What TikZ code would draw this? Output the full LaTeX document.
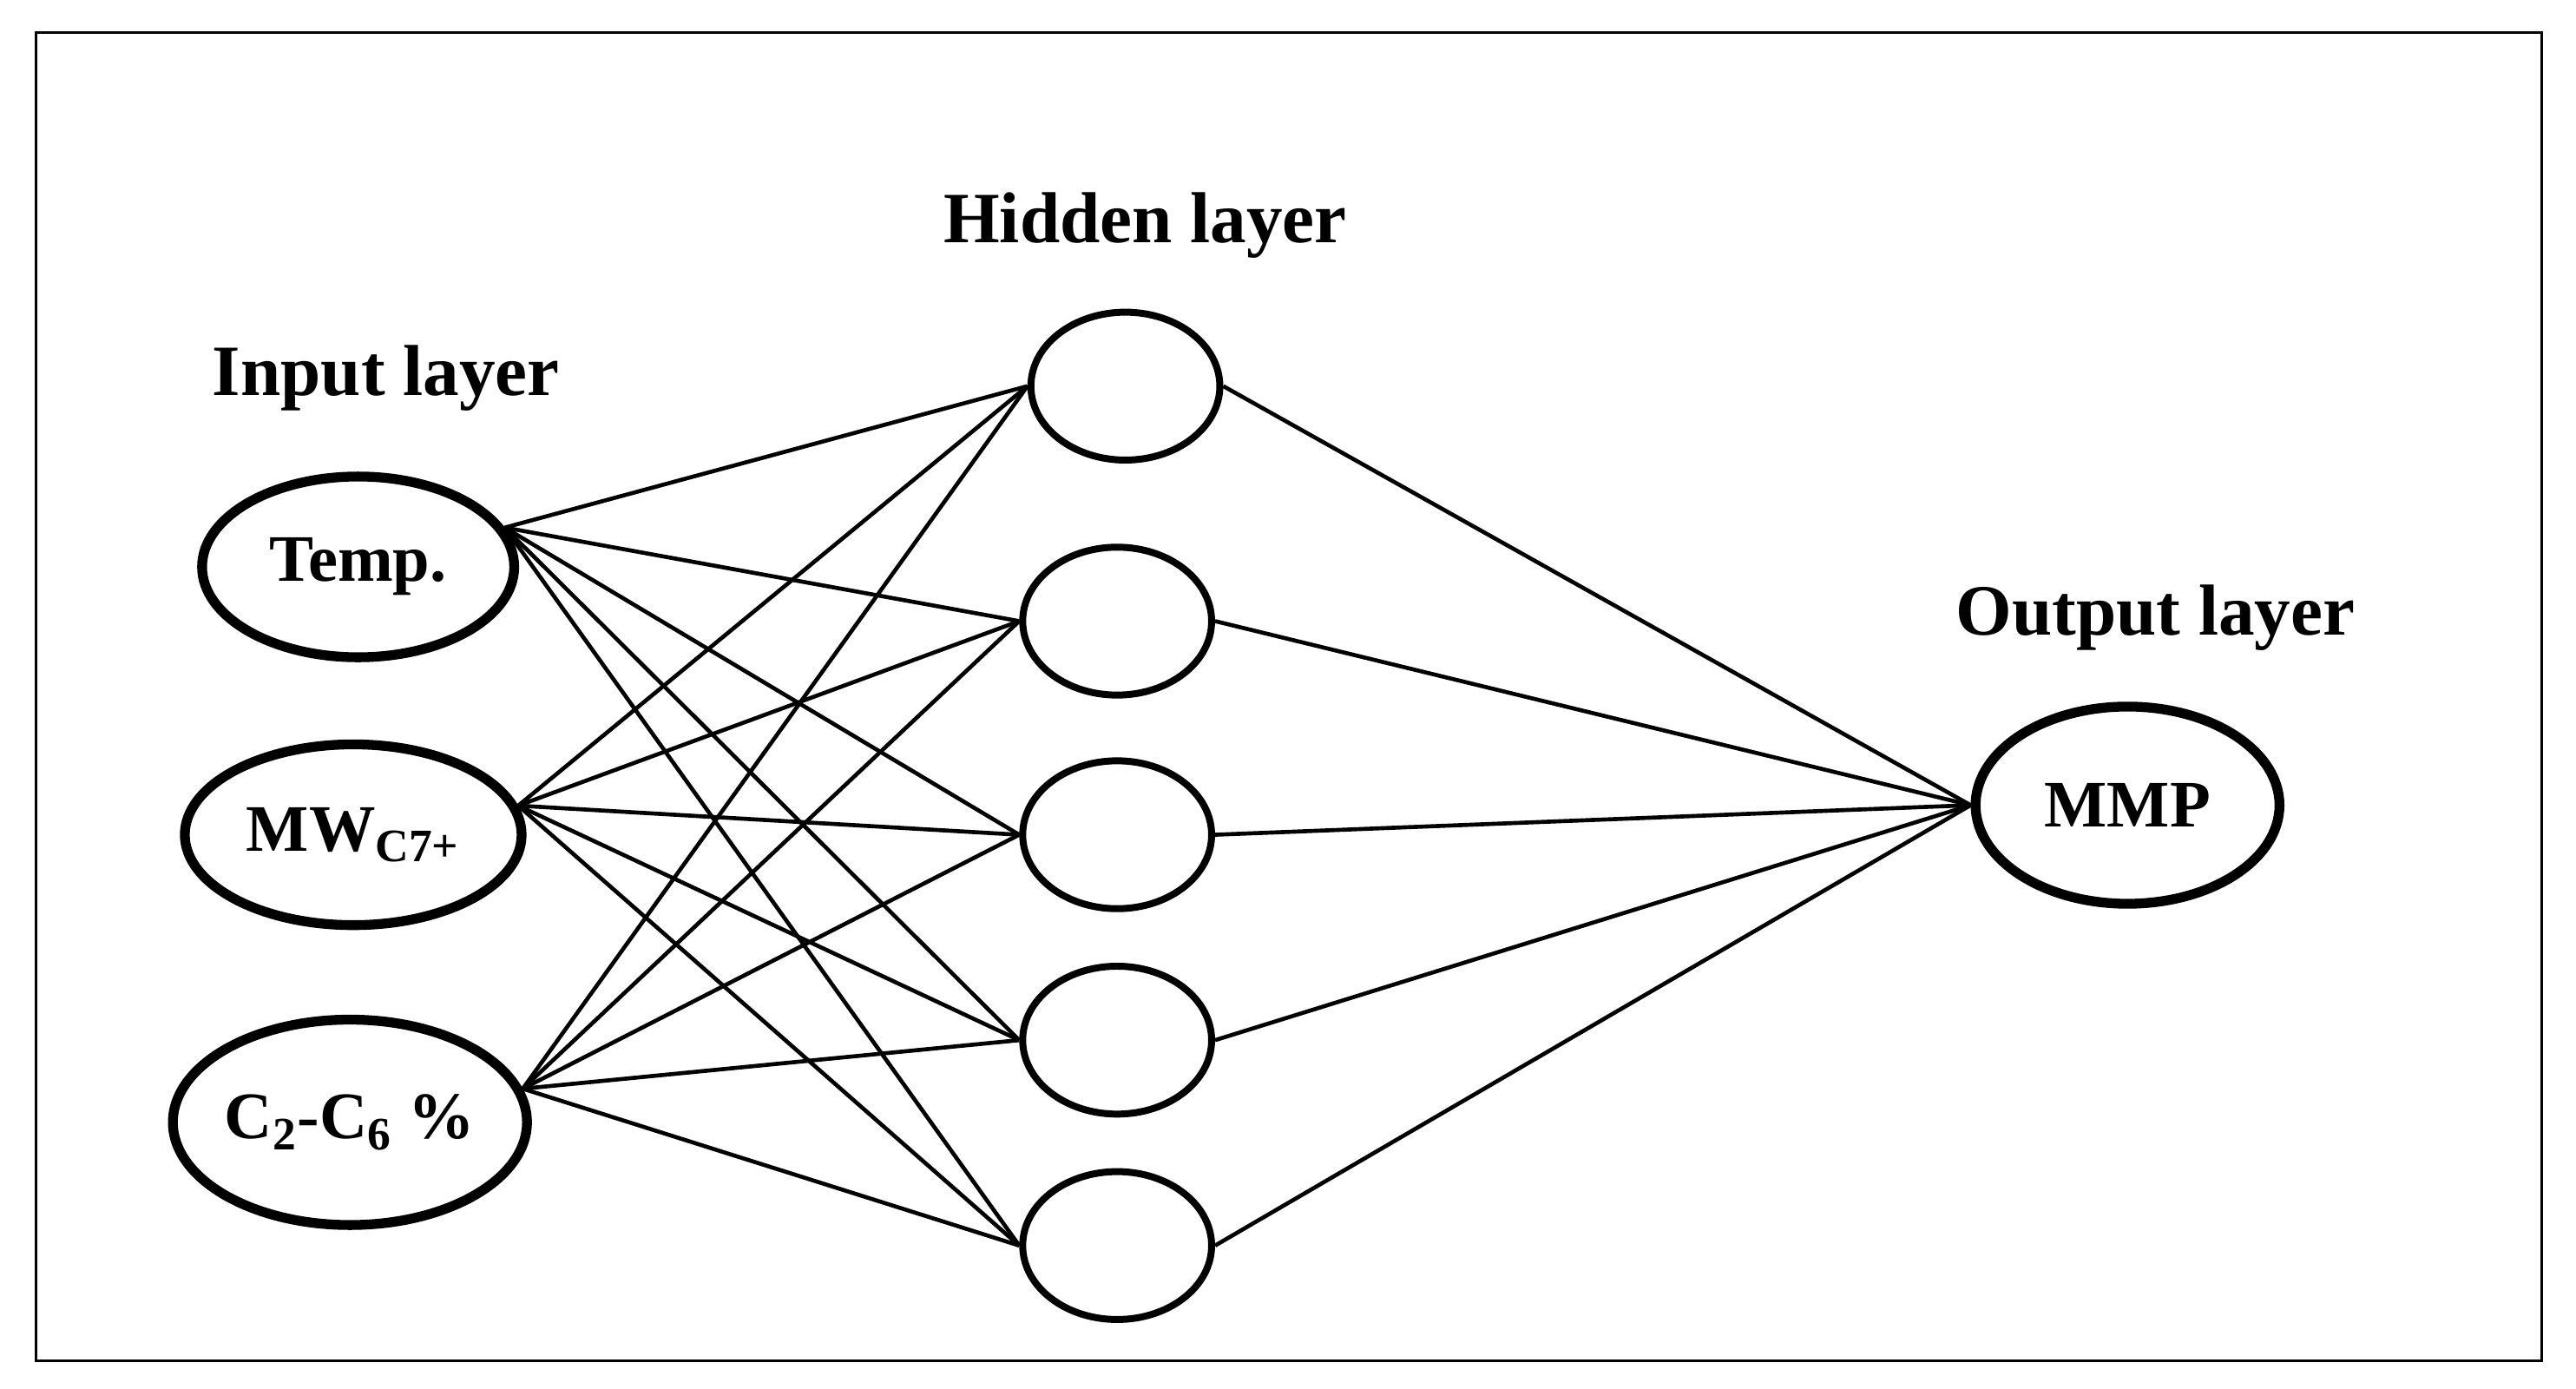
\documentclass[tikz,border=0pt]{standalone}
\usepackage{fontspec}
\setmainfont{Liberation Serif}
\usetikzlibrary{shapes.geometric}
\tikzset{
  inp/.style={ellipse, draw, line width=3.4pt, minimum width=3.8cm, minimum height=2.2cm, font=\fontsize{23}{27}\selectfont\bfseries},
  hid/.style={ellipse, draw, line width=2.4pt, minimum width=2.3cm, minimum height=1.8cm},
  lbl/.style={font=\fontsize{25}{29}\selectfont\bfseries},
  conn/.style={line width=1.4pt}
}
\begin{document}
\begin{tikzpicture}
  \useasboundingbox (0,0) rectangle (31.36,16.9);
  \draw[line width=1pt] (0.44,0.34) rectangle (30.94,16.5);

  % input layer
  \node[lbl] at (4.7,12.3) {Input layer};
  \node[inp] (t) at (4.36,10.0) {Temp.};
  \node[inp, inner sep=0pt, minimum width=4.1cm] (m) at (4.3,6.74) {MW\textsubscript{C7+}};
  \node[inp, inner sep=0pt, minimum width=4.2cm, minimum height=2.5cm] (c) at (4.26,3.24) {C\textsubscript{2}-C\textsubscript{6} \%};

  % hidden layer
  \node[lbl] at (13.94,14.16) {Hidden layer};
  \node[hid] (h1) at (13.7,12.2) {};
  \node[hid] (h2) at (13.6,9.34) {};
  \node[hid] (h3) at (13.6,6.74) {};
  \node[hid] (h4) at (13.6,4.24) {};
  \node[hid] (h5) at (13.6,1.74) {};

  % output layer
  \node[lbl] at (26.24,9.38) {Output layer};
  \node[inp, minimum width=3.7cm, minimum height=2.4cm] (o) at (25.9,7.1) {MMP};

  \foreach \h in {h1,h2,h3,h4,h5} {
    \draw[conn] (t.15) -- (\h.west);
    \draw[conn] (m.10) -- (\h.west);
    \draw[conn] (c.11) -- (\h.west);
    \draw[conn] (\h.east) -- (o.west);
  }
\end{tikzpicture}
\end{document}
